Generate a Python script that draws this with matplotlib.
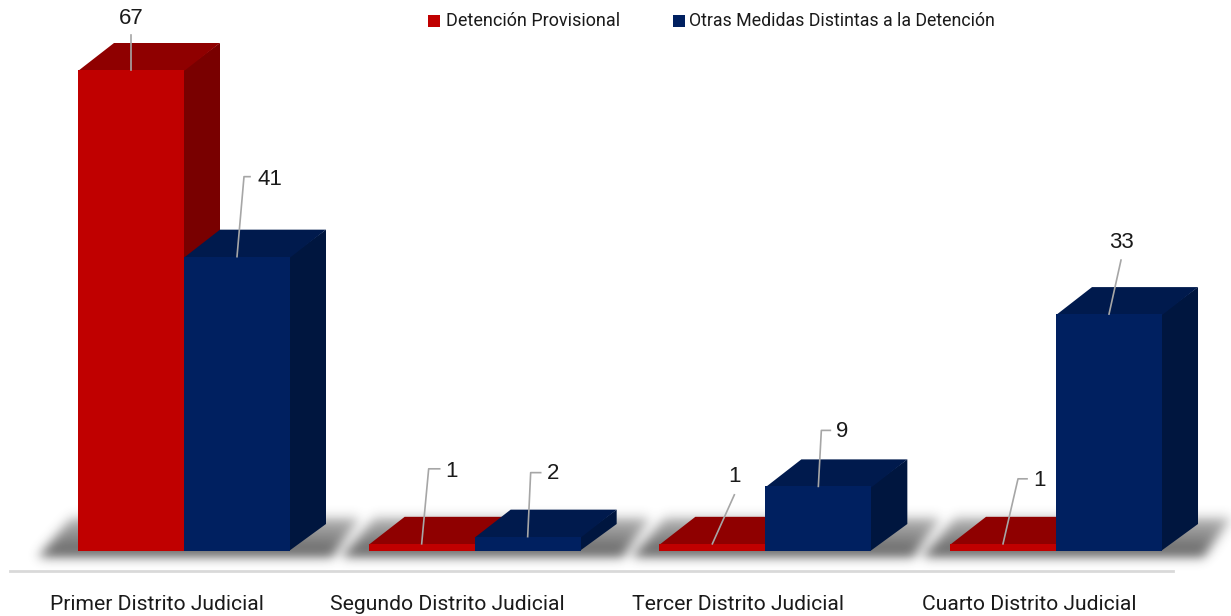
import numpy as np
import matplotlib
matplotlib.use("Agg")
from matplotlib import pyplot as plt
from matplotlib.patches import Polygon, Rectangle
from matplotlib.path import Path

categories = ["Primer Distrito Judicial", "Segundo Distrito Judicial",
              "Tercer Distrito Judicial", "Cuarto Distrito Judicial"]
series_names = ["Detención Provisional", "Otras Medidas Distintas a la Detención"]
detencion = [67, 1, 1, 1]
otras = [41, 2, 9, 33]

front_colors = ["#C00000", "#002060"]
top_colors = ["#8F0000", "#001A4D"]
side_colors = ["#790000", "#00163F"]

W, H = 1231, 616
PX_X = 290.67            # pixels per category
PX_Y = 481 / 67          # pixels per value unit
BASE_PX = 551            # baseline row
CENTER0_PX = 184         # center of first group

fig = plt.figure(figsize=(W / 100, H / 100), dpi=100)
fig.set_facecolor("white")
ax = fig.add_axes([0, 0, 1, 1])
XLIM = (-CENTER0_PX / PX_X, (W - CENTER0_PX) / PX_X)
YLIM = (-(H - BASE_PX) / PX_Y, BASE_PX / PX_Y)
ax.axis("off")


def dx(px):
    return px / PX_X


def dy(px):
    return -px / PX_Y


bar_w = dx(106)
depth_x = dx(36)
depth_y = -dy(27)

# floor shadow (blurred), one per group
xs = np.linspace(XLIM[0], XLIM[1], W)
ys = np.linspace(YLIM[1], YLIM[0], H)
gx, gy = np.meshgrid(xs, ys)
pts = np.column_stack([gx.ravel(), gy.ravel()])
mask = np.zeros(gx.size)
for i in range(len(categories)):
    xl = i - bar_w
    xr = i + bar_w
    left_pad = 40 if i == 0 else 27
    poly = [(xl - dx(left_pad), dy(6)), (xr + dx(42), dy(6)),
            (xr + dx(70), dy(-34)), (xl - dx(left_pad - 33), dy(-34))]
    mask += Path(poly).contains_points(pts)
mask = mask.reshape(gx.shape).clip(0, 1)
sig = 5.5
k = np.arange(-18, 19)
kern = np.exp(-k ** 2 / (2 * sig ** 2))
kern /= kern.sum()
mask = np.apply_along_axis(lambda r: np.convolve(r, kern, mode="same"), 1, mask)
mask = np.apply_along_axis(lambda c: np.convolve(c, kern, mode="same"), 0, mask)
rows = np.arange(H)[:, None]
grad = np.clip(0.35 + (rows - 515) / 40 * 0.45, 0.35, 0.8)
shadow = np.zeros((H, W, 4))
shadow[..., :3] = 0.22
shadow[..., 3] = mask * grad
ax.imshow(shadow, extent=(XLIM[0], XLIM[1], YLIM[0], YLIM[1]),
          origin="upper", aspect="auto", zorder=1, interpolation="bilinear")
ax.set_xlim(*XLIM)
ax.set_ylim(*YLIM)

ov = dy(-1.0)  # small overlap to hide seams


def draw_bar(x0, h, s, z):
    x1 = x0 + bar_w
    ax.add_patch(Polygon([(x1 - dx(1), 0), (x1 + depth_x, depth_y), (x1 + depth_x, h + depth_y), (x1 - dx(1), h)],
                         closed=True, facecolor=side_colors[s], edgecolor="none", zorder=z))
    ax.add_patch(Polygon([(x0, h - ov), (x1, h - ov), (x1 + depth_x, h + depth_y), (x0 + depth_x, h + depth_y)],
                         closed=True, facecolor=top_colors[s], edgecolor="none", zorder=z))
    ax.add_patch(Rectangle((x0, 0), bar_w, h, facecolor=front_colors[s],
                           edgecolor="none", zorder=z + 0.5))


for i in range(len(categories)):
    draw_bar(i - bar_w, detencion[i], 0, 2 + i * 2)
    draw_bar(i, otras[i], 1, 3 + i * 2)

# data labels: (text offset px, elbow) per bar
label_offsets = {
    (0, 0): ((0, -52), None), (0, 1): ((33, -77), (7, -80)),
    (1, 0): ((30, -72), (7, -75)), (1, 1): ((25, -63), (3, -64)),
    (2, 0): ((22, -67), None), (2, 1): ((24, -55), (3, -56)),
    (3, 0): ((36, -63), (15, -65)), (3, 1): ((12, -72), None),
}
for i in range(len(categories)):
    for s, vals in enumerate([detencion, otras]):
        ax_x = i - bar_w / 2 if s == 0 else i + bar_w / 2
        val = vals[i]
        (ox, oy), elbow = label_offsets[(i, s)]
        tx, ty = ax_x + dx(ox), val + dy(oy)
        ax.text(tx, ty, str(val), ha="center", va="center", fontsize=16,
                family="Liberation Sans", color="#1a1a1a", zorder=20)
        gap = 12 if val < 10 else 20
        if elbow is None:
            if ox == 0:
                ax.plot([ax_x, ax_x], [val, ty + dy(17)], color="#A6A6A6", lw=1.2, zorder=19)
            else:
                ax.plot([ax_x, tx], [val, ty + dy(18)], color="#A6A6A6", lw=1.2, zorder=19)
        else:
            ex, ey = elbow
            ax.plot([ax_x, ax_x + dx(ex), tx - dx(gap)], [val, val + dy(ey), val + dy(ey)],
                    color="#A6A6A6", lw=1.2, zorder=19)

# axis line
ax.plot([dx(10 - CENTER0_PX), dx(1173 - CENTER0_PX)], [dy(20), dy(20)], color="#D9D9D9", lw=2, zorder=1)

for i, c in enumerate(categories):
    ax.text(i + dx(-27), dy(54), c, ha="center", va="center", fontsize=15.2,
            family="Roboto", color="#1a1a1a")

# legend
leg_y = 1 - 21 / H
fig.patches.append(Rectangle((428 / W, 1 - 27 / H), 12 / W, 12 / H, transform=fig.transFigure,
                             facecolor=front_colors[0], edgecolor="none"))
fig.text(446 / W, leg_y, series_names[0], ha="left", va="center", fontsize=13,
         family="Roboto", color="#1a1a1a")
fig.patches.append(Rectangle((673 / W, 1 - 27 / H), 12 / W, 12 / H, transform=fig.transFigure,
                             facecolor=front_colors[1], edgecolor="none"))
fig.text(689 / W, leg_y, series_names[1], ha="left", va="center", fontsize=12.8,
         family="Roboto", color="#1a1a1a")

fig.savefig("out.png", dpi=100, facecolor="white")
